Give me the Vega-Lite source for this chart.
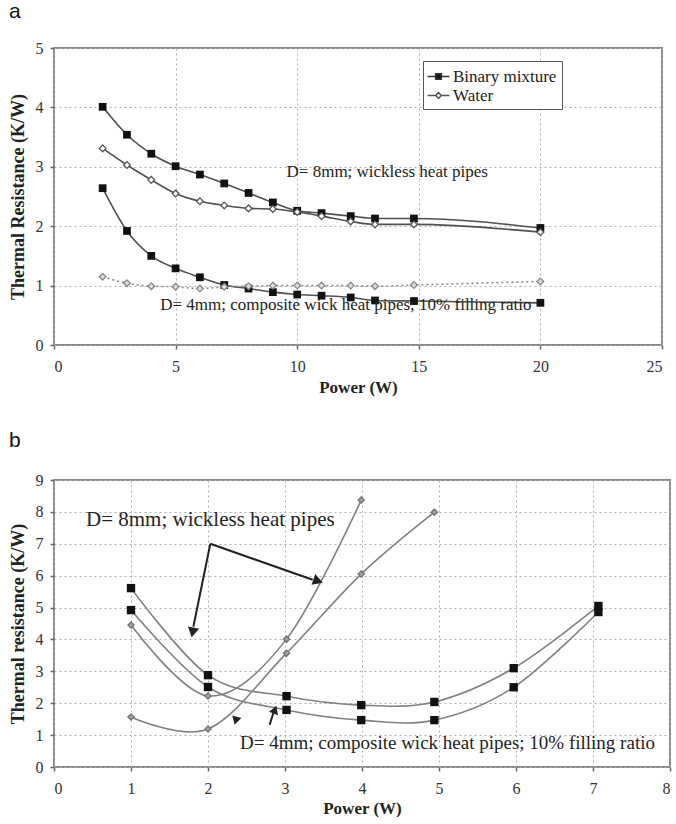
{
  "$schema": "https://vega.github.io/schema/vega-lite/v6.json",
  "background": "white",
  "padding": {"left": 8, "top": 0, "right": 2, "bottom": 0},
  "spacing": 33,
  "config": {
    "font": "Liberation Serif",
    "view": {"stroke": "#8a8a8a", "strokeWidth": 2},
    "style": {"guide-label": {"font": "Liberation Serif"}, "guide-title": {"font": "Liberation Serif"}},
    "axis": {
      "domain": false, "grid": true, "gridColor": "#b0b0b0", "gridDash": [2, 3], "gridWidth": 1,
      "ticks": true, "tickColor": "#666", "tickSize": 4, "tickWidth": 1.5,
      "labelFont": "Liberation Serif", "labelFontSize": 16, "labelColor": "#333", "labelPadding": 9,
      "titleFont": "Liberation Serif", "titleFontSize": 17, "titleFontWeight": "bold", "titleColor": "#222"
    },
    "legend": {"title": null, "orient": "none", "padding": 5, "strokeColor": "#555", "fillColor": "white", "symbolSize": 361, "symbolStrokeWidth": 1.5, "rowPadding": 0, "labelOffset": 4}
  },
  "datasets": {
    "pa": [
      {"P": 2, "R": 4.01, "fluid": "Binary mixture", "D": "8mm"},
      {"P": 3, "R": 3.54, "fluid": "Binary mixture", "D": "8mm"},
      {"P": 4, "R": 3.22, "fluid": "Binary mixture", "D": "8mm"},
      {"P": 5, "R": 3.01, "fluid": "Binary mixture", "D": "8mm"},
      {"P": 6, "R": 2.87, "fluid": "Binary mixture", "D": "8mm"},
      {"P": 7, "R": 2.72, "fluid": "Binary mixture", "D": "8mm"},
      {"P": 8, "R": 2.56, "fluid": "Binary mixture", "D": "8mm"},
      {"P": 9, "R": 2.4, "fluid": "Binary mixture", "D": "8mm"},
      {"P": 10, "R": 2.26, "fluid": "Binary mixture", "D": "8mm"},
      {"P": 11, "R": 2.22, "fluid": "Binary mixture", "D": "8mm"},
      {"P": 12.2, "R": 2.17, "fluid": "Binary mixture", "D": "8mm"},
      {"P": 13.2, "R": 2.13, "fluid": "Binary mixture", "D": "8mm"},
      {"P": 14.8, "R": 2.13, "fluid": "Binary mixture", "D": "8mm"},
      {"P": 20, "R": 1.97, "fluid": "Binary mixture", "D": "8mm"},
      {"P": 2, "R": 3.31, "fluid": "Water", "D": "8mm"},
      {"P": 3, "R": 3.03, "fluid": "Water", "D": "8mm"},
      {"P": 4, "R": 2.78, "fluid": "Water", "D": "8mm"},
      {"P": 5, "R": 2.55, "fluid": "Water", "D": "8mm"},
      {"P": 6, "R": 2.42, "fluid": "Water", "D": "8mm"},
      {"P": 7, "R": 2.35, "fluid": "Water", "D": "8mm"},
      {"P": 8, "R": 2.3, "fluid": "Water", "D": "8mm"},
      {"P": 9, "R": 2.29, "fluid": "Water", "D": "8mm"},
      {"P": 10, "R": 2.24, "fluid": "Water", "D": "8mm"},
      {"P": 11, "R": 2.17, "fluid": "Water", "D": "8mm"},
      {"P": 12.2, "R": 2.08, "fluid": "Water", "D": "8mm"},
      {"P": 13.2, "R": 2.03, "fluid": "Water", "D": "8mm"},
      {"P": 14.8, "R": 2.03, "fluid": "Water", "D": "8mm"},
      {"P": 20, "R": 1.9, "fluid": "Water", "D": "8mm"},
      {"P": 2, "R": 2.64, "fluid": "Binary mixture", "D": "4mm"},
      {"P": 3, "R": 1.92, "fluid": "Binary mixture", "D": "4mm"},
      {"P": 4, "R": 1.5, "fluid": "Binary mixture", "D": "4mm"},
      {"P": 5, "R": 1.29, "fluid": "Binary mixture", "D": "4mm"},
      {"P": 6, "R": 1.14, "fluid": "Binary mixture", "D": "4mm"},
      {"P": 7, "R": 1.01, "fluid": "Binary mixture", "D": "4mm"},
      {"P": 8, "R": 0.95, "fluid": "Binary mixture", "D": "4mm"},
      {"P": 9, "R": 0.89, "fluid": "Binary mixture", "D": "4mm"},
      {"P": 10, "R": 0.85, "fluid": "Binary mixture", "D": "4mm"},
      {"P": 11, "R": 0.83, "fluid": "Binary mixture", "D": "4mm"},
      {"P": 12.2, "R": 0.8, "fluid": "Binary mixture", "D": "4mm"},
      {"P": 13.2, "R": 0.75, "fluid": "Binary mixture", "D": "4mm"},
      {"P": 14.8, "R": 0.74, "fluid": "Binary mixture", "D": "4mm"},
      {"P": 20, "R": 0.71, "fluid": "Binary mixture", "D": "4mm"},
      {"P": 2, "R": 1.15, "fluid": "Water", "D": "4mm"},
      {"P": 3, "R": 1.04, "fluid": "Water", "D": "4mm"},
      {"P": 4, "R": 0.99, "fluid": "Water", "D": "4mm"},
      {"P": 5, "R": 0.98, "fluid": "Water", "D": "4mm"},
      {"P": 6, "R": 0.95, "fluid": "Water", "D": "4mm"},
      {"P": 7, "R": 0.98, "fluid": "Water", "D": "4mm"},
      {"P": 8, "R": 0.99, "fluid": "Water", "D": "4mm"},
      {"P": 9, "R": 1.0, "fluid": "Water", "D": "4mm"},
      {"P": 10, "R": 1.0, "fluid": "Water", "D": "4mm"},
      {"P": 11, "R": 1.0, "fluid": "Water", "D": "4mm"},
      {"P": 12.2, "R": 1.0, "fluid": "Water", "D": "4mm"},
      {"P": 13.2, "R": 0.99, "fluid": "Water", "D": "4mm"},
      {"P": 14.8, "R": 1.01, "fluid": "Water", "D": "4mm"},
      {"P": 20, "R": 1.07, "fluid": "Water", "D": "4mm"}
    ],
    "pb": [
      {"P": 1, "R": 5.61, "fluid": "Binary mixture", "D": "8mm"},
      {"P": 2, "R": 2.88, "fluid": "Binary mixture", "D": "8mm"},
      {"P": 3.02, "R": 2.22, "fluid": "Binary mixture", "D": "8mm"},
      {"P": 3.99, "R": 1.94, "fluid": "Binary mixture", "D": "8mm"},
      {"P": 4.94, "R": 2.04, "fluid": "Binary mixture", "D": "8mm"},
      {"P": 5.97, "R": 3.1, "fluid": "Binary mixture", "D": "8mm"},
      {"P": 7.07, "R": 5.05, "fluid": "Binary mixture", "D": "8mm"},
      {"P": 1, "R": 4.92, "fluid": "Binary mixture", "D": "4mm"},
      {"P": 2, "R": 2.51, "fluid": "Binary mixture", "D": "4mm"},
      {"P": 3.02, "R": 1.79, "fluid": "Binary mixture", "D": "4mm"},
      {"P": 3.99, "R": 1.47, "fluid": "Binary mixture", "D": "4mm"},
      {"P": 4.94, "R": 1.47, "fluid": "Binary mixture", "D": "4mm"},
      {"P": 5.97, "R": 2.5, "fluid": "Binary mixture", "D": "4mm"},
      {"P": 7.07, "R": 4.86, "fluid": "Binary mixture", "D": "4mm"},
      {"P": 1, "R": 4.45, "fluid": "Water", "D": "8mm"},
      {"P": 2, "R": 2.23, "fluid": "Water", "D": "8mm"},
      {"P": 3.02, "R": 4.01, "fluid": "Water", "D": "8mm"},
      {"P": 3.99, "R": 8.37, "fluid": "Water", "D": "8mm"},
      {"P": 1, "R": 1.57, "fluid": "Water", "D": "4mm"},
      {"P": 2, "R": 1.19, "fluid": "Water", "D": "4mm"},
      {"P": 3.02, "R": 3.57, "fluid": "Water", "D": "4mm"},
      {"P": 3.99, "R": 6.05, "fluid": "Water", "D": "4mm"},
      {"P": 4.94, "R": 7.99, "fluid": "Water", "D": "4mm"}
    ]
  },
  "vconcat": [
    {
      "width": 608,
      "height": 297,
      "title": {"text": "a", "anchor": "start", "frame": "bounds", "font": "Liberation Sans", "fontSize": 21, "fontWeight": "normal", "color": "#111", "offset": 18},
      "encoding": {
        "x": {"field": "P", "type": "quantitative", "title": "Power (W)", "scale": {"domain": [0, 25], "nice": false}, "axis": {"values": [0, 5, 10, 15, 20, 25], "titlePadding": 5, "labelFont": "Liberation Serif", "titleFont": "Liberation Serif"}},
        "y": {"field": "R", "type": "quantitative", "title": "Thermal Resistance (K/W)", "scale": {"domain": [0, 5], "nice": false}, "axis": {"values": [0, 1, 2, 3, 4, 5], "titleFontSize": 18, "titlePadding": 8, "labelPadding": 7, "labelFont": "Liberation Serif", "titleFont": "Liberation Serif"}}
      },
      "layer": [
        {
          "data": {"name": "pa"},
          "transform": [{"filter": "!(datum.fluid == 'Water' && datum.D == '4mm')"}],
          "mark": {"type": "line", "interpolate": "monotone", "color": "#505050", "strokeWidth": 1.6},
          "encoding": {"detail": [{"field": "fluid"}, {"field": "D"}]}
        },
        {
          "data": {"name": "pa"},
          "transform": [{"filter": "datum.fluid == 'Water' && datum.D == '4mm'"}],
          "mark": {"type": "line", "interpolate": "monotone", "color": "#8a8a8a", "strokeWidth": 1.6, "strokeDash": [2, 3]},
          "encoding": {}
        },
        {
          "data": {"name": "pa"},
          "transform": [{"filter": "datum.fluid == 'Binary mixture'"}],
          "mark": {"type": "point", "shape": "square", "filled": true, "color": "#111", "size": 60, "opacity": 1},
          "encoding": {}
        },
        {
          "data": {"name": "pa"},
          "transform": [{"filter": "datum.fluid == 'Water' && datum.D == '8mm'"}],
          "mark": {"type": "point", "shape": "diamond", "fill": "white", "stroke": "#555", "strokeWidth": 1.3, "size": 45, "opacity": 1, "filled": true},
          "encoding": {}
        },
        {
          "data": {"name": "pa"},
          "transform": [{"filter": "datum.fluid == 'Water' && datum.D == '4mm'"}],
          "mark": {"type": "point", "shape": "diamond", "fill": "#dddddd", "stroke": "#888", "strokeWidth": 1.3, "size": 45, "opacity": 1, "filled": true},
          "encoding": {}
        },
        {
          "data": {"values": [{"P": 13.7, "R": 2.91, "label": "D= 8mm; wickless heat pipes"}]},
          "mark": {"type": "text", "font": "Liberation Serif", "fontSize": 17, "color": "#222"},
          "encoding": {"text": {"field": "label"}}
        },
        {
          "data": {"values": [{"P": 12.0, "R": 0.67, "label": "D= 4mm; composite wick heat pipes; 10% filling ratio"}]},
          "mark": {"type": "text", "font": "Liberation Serif", "fontSize": 17, "color": "#222"},
          "encoding": {"text": {"field": "label"}}
        },
        {
          "data": {"name": "pa"},
          "transform": [{"filter": "false"}],
          "mark": {"type": "point", "strokeWidth": 1.5, "opacity": 1},
          "encoding": {
            "shape": {"field": "fluid", "type": "nominal", "scale": {"domain": ["Binary mixture", "Water"], "range": ["M-1.15,0H-0.3M0.3,0H1.15M-0.3,-0.3H0.3V0.3H-0.3Z", "M-1.15,0H-0.3M0.3,0H1.15M0,-0.3L0.3,0L0,0.3L-0.3,0Z"]}, "legend": {"legendX": 369, "legendY": 13, "labelFont": "Liberation Serif", "labelFontSize": 17, "labelColor": "#222"}},
            "fill": {"field": "fluid", "type": "nominal", "scale": {"domain": ["Binary mixture", "Water"], "range": ["#111", "white"]}, "legend": {"legendX": 369, "legendY": 13, "labelFont": "Liberation Serif", "labelFontSize": 17, "labelColor": "#222"}},
            "stroke": {"field": "fluid", "type": "nominal", "scale": {"domain": ["Binary mixture", "Water"], "range": ["#333", "#555"]}, "legend": {"legendX": 369, "legendY": 13, "labelFont": "Liberation Serif", "labelFontSize": 17, "labelColor": "#222"}}
          }
        }
      ]
    },
    {
      "width": 616,
      "height": 287,
      "title": {"text": "b", "anchor": "start", "frame": "bounds", "font": "Liberation Sans", "fontSize": 21, "fontWeight": "normal", "color": "#111", "offset": 21},
      "encoding": {
        "x": {"field": "P", "type": "quantitative", "title": "Power (W)", "scale": {"domain": [0, 8], "nice": false}, "axis": {"values": [0, 1, 2, 3, 4, 5, 6, 7, 8], "titlePadding": 4, "labelFont": "Liberation Serif", "titleFont": "Liberation Serif"}},
        "y": {"field": "R", "type": "quantitative", "title": "Thermal resistance (K/W)", "scale": {"domain": [0, 9], "nice": false}, "axis": {"values": [0, 1, 2, 3, 4, 5, 6, 7, 8, 9], "titleFontSize": 18, "titlePadding": 8, "labelPadding": 7, "labelFont": "Liberation Serif", "titleFont": "Liberation Serif"}}
      },
      "layer": [
        {
          "data": {"name": "pb"},
          "mark": {"type": "line", "interpolate": "cardinal", "color": "#808080", "strokeWidth": 1.6, "clip": true},
          "encoding": {"detail": [{"field": "fluid"}, {"field": "D"}]}
        },
        {
          "data": {"name": "pb"},
          "transform": [{"filter": "datum.fluid == 'Binary mixture'"}],
          "mark": {"type": "point", "shape": "square", "filled": true, "color": "#111", "size": 70, "opacity": 1},
          "encoding": {}
        },
        {
          "data": {"name": "pb"},
          "transform": [{"filter": "datum.fluid == 'Water'"}],
          "mark": {"type": "point", "shape": "diamond", "fill": "#a0a0a0", "stroke": "#6e6e6e", "strokeWidth": 1.2, "size": 40, "opacity": 1, "filled": true},
          "encoding": {}
        },
        {
          "data": {"values": [
            {"P": 2.03, "R": 7.0, "P2": 1.81, "R2": 4.4},
            {"P": 2.03, "R": 7.0, "P2": 3.36, "R2": 5.87},
            {"P": 2.8, "R": 1.32, "P2": 2.85, "R2": 1.7}
          ]},
          "mark": {"type": "rule", "color": "#222", "strokeWidth": 2},
          "encoding": {"x2": {"field": "P2"}, "y2": {"field": "R2"}}
        },
        {
          "data": {"values": [{"P": 1.8, "R": 4.22}]},
          "mark": {"type": "point", "shape": "triangle-up", "filled": true, "color": "#222", "size": 130, "angle": 191, "opacity": 1},
          "encoding": {}
        },
        {
          "data": {"values": [{"P": 3.43, "R": 5.83}]},
          "mark": {"type": "point", "shape": "triangle-up", "filled": true, "color": "#222", "size": 130, "angle": 109, "opacity": 1},
          "encoding": {}
        },
        {
          "data": {"values": [{"P": 2.87, "R": 1.8}]},
          "mark": {"type": "point", "shape": "triangle-up", "filled": true, "color": "#222", "size": 90, "angle": 21, "opacity": 1},
          "encoding": {}
        },
        {
          "data": {"values": [{"P": 2.36, "R": 1.45}]},
          "mark": {"type": "point", "shape": "triangle-down", "filled": true, "color": "#222", "size": 90, "angle": 15, "opacity": 1},
          "encoding": {}
        },
        {
          "data": {"values": [{"P": 2.03, "R": 7.74, "label": "D= 8mm; wickless heat pipes"}]},
          "mark": {"type": "text", "font": "Liberation Serif", "fontSize": 21, "color": "#222"},
          "encoding": {"text": {"field": "label"}}
        },
        {
          "data": {"values": [{"P": 5.11, "R": 0.75, "label": "D= 4mm; composite wick heat pipes; 10% filling ratio"}]},
          "mark": {"type": "text", "font": "Liberation Serif", "fontSize": 19, "color": "#222"},
          "encoding": {"text": {"field": "label"}}
        },
        {
          "data": {"name": "pb"},
          "transform": [{"filter": "false"}],
          "mark": {"type": "point", "strokeWidth": 1.5, "opacity": 1},
          "encoding": {
            "shape": {"field": "fluid", "type": "nominal", "scale": {"domain": ["Binary mixture", "Water"], "range": ["M-1.15,0H-0.3M0.3,0H1.15M-0.3,-0.3H0.3V0.3H-0.3Z", "M-1.15,0H-0.25M0.25,0H1.15M0,-0.25L0.25,0L0,0.25L-0.25,0Z"]}, "legend": {"legendX": 441, "legendY": 7, "labelFont": "Liberation Sans", "labelFontSize": 17, "labelColor": "#222"}},
            "fill": {"field": "fluid", "type": "nominal", "scale": {"domain": ["Binary mixture", "Water"], "range": ["#111", "#a0a0a0"]}, "legend": {"legendX": 441, "legendY": 7, "labelFont": "Liberation Sans", "labelFontSize": 17, "labelColor": "#222"}},
            "stroke": {"field": "fluid", "type": "nominal", "scale": {"domain": ["Binary mixture", "Water"], "range": ["#707070", "#707070"]}, "legend": {"legendX": 441, "legendY": 7, "labelFont": "Liberation Sans", "labelFontSize": 17, "labelColor": "#222"}}
          }
        }
      ]
    }
  ]
}
